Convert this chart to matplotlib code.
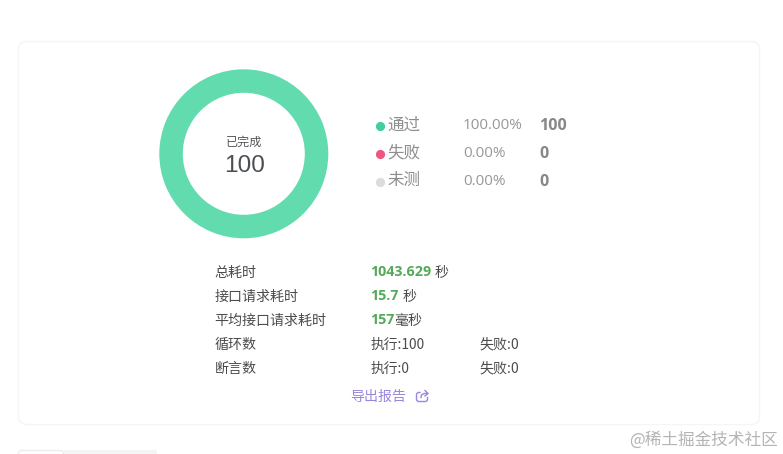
import matplotlib.pyplot as plt
from matplotlib.patches import FancyBboxPatch, Rectangle

plt.rcParams['font.family'] = ['Noto Sans CJK SC', 'DejaVu Sans']

# donut
donut_values = [100, 0, 0]
donut_colors = ['#62dcae', '#f0557f', '#dcdcdc']
center_title = '已完成'
center_value = '100'

# legend rows
legend_names = ['通过', '失败', '未测']
legend_colors = ['#43cf9c', '#f0557f', '#dcdcdc']
legend_pcts = ['100.00%', '0.00%', '0.00%']
legend_counts = ['100', '0', '0']
legend_y = [124.5, 152.5, 180.5]

# stats below the chart
row_labels = ['总耗时', '接口请求耗时', '平均接口请求耗时', '循环数', '断言数']
row_y = [272, 296, 320, 344, 368]
green_values = ['1043.629', '15.7', '157']
green_units = ['秒', '秒', '毫秒']
green_unit_x = [434.5, 402.5, 394]
exec_texts = ['执行:100', '执行:0']
fail_texts = ['失败:0', '失败:0']

fig = plt.figure(figsize=(7.83, 4.54), dpi=100, facecolor='white')

# page layer in pixel coordinates
bg = fig.add_axes([0, 0, 1, 1])
bg.set_xlim(0, 783)
bg.set_ylim(454, 0)
bg.axis('off')

bg.add_patch(FancyBboxPatch((18.5, 41.5), 741, 383, boxstyle='round,pad=0,rounding_size=8',
                            fc='white', ec='#f5f5f6', lw=1))
bg.add_patch(Rectangle((64, 449.5), 93, 6, fc='#f4f4f5', ec='none'))
bg.add_patch(FancyBboxPatch((18.5, 450.5), 45, 8, boxstyle='round,pad=0,rounding_size=3',
                            fc='white', ec='#ececee', lw=1))

# donut
ax = fig.add_axes([(243.8 - 84.5) / 783, 1 - (153.8 + 84.5) / 454, 169 / 783, 169 / 454])
ax.pie(donut_values, colors=donut_colors, radius=1, startangle=90, counterclock=False,
       wedgeprops=dict(width=23.5 / 84.5, linewidth=0))
ax.set_xlim(-1, 1)
ax.set_ylim(-1, 1)
ax.set_aspect('equal')

bg.text(244, 142, center_title, fontsize=8.7, color='#55555b', ha='center', va='center')
bg.text(244.5, 165.5, center_value, fontsize=17.6, color='#4a4f54', ha='center', va='center',
        family='Liberation Sans')

# legend
for i in range(3):
    y = legend_y[i]
    bg.plot([379.5], [y + 1.5], 'o', ms=6.6, color=legend_colors[i], mec='none')
    bg.text(387.5, y + 0.3, legend_names[i], fontsize=11.9, color='#8d8d8d', ha='left', va='center')
    bg.text(463, y + 1, legend_pcts[i], fontsize=11, color='#989898', ha='left', va='center',
            family='Open Sans')
    bg.text(539, y + 1, legend_counts[i], fontsize=11.5, color='#87878a', ha='left', va='center',
            family='Open Sans', fontweight='bold')

# stats
for label, y in zip(row_labels, row_y):
    bg.text(214.5, y + 0.5, label, fontsize=10.1, color='#4c4c4c', ha='left', va='center')
for i in range(3):
    bg.text(370.5, row_y[i] + 0.5, green_values[i], fontsize=10.3, color='#55a95a', ha='left', va='center',
            family='Open Sans', fontweight='bold')
    bg.text(green_unit_x[i], row_y[i] + 0.5, green_units[i], fontsize=10.1, color='#4c4c4c', ha='left', va='center')
for i in range(2):
    bg.text(371, row_y[3 + i] + 0.5, exec_texts[i], fontsize=9.9, color='#4c4c4c', ha='left', va='center')
    bg.text(479, row_y[3 + i] + 0.5, fail_texts[i], fontsize=10.1, color='#4c4c4c', ha='left', va='center')

# export link
bg.text(350, 396.5, '导出报告', fontsize=10.1, color='#9a86dc', ha='left', va='center')
bg.plot([420, 418, 416.5, 416.5, 418, 426, 427.5, 427.5],
        [392.5, 392.5, 394, 400, 401.5, 401.5, 400, 397.5], color='#9a86dc', lw=1)
bg.plot([421, 421.5, 424, 427.5], [397.5, 395, 393.5, 393.5], color='#9a86dc', lw=1)
bg.plot([425, 428, 425], [390.5, 393.5, 396], color='#9a86dc', lw=1)

# watermark
bg.text(778, 440, '@稀土掘金技术社区', fontsize=12, color='#b4b4b4', ha='right', va='center')

plt.savefig('out.png', dpi=100)
